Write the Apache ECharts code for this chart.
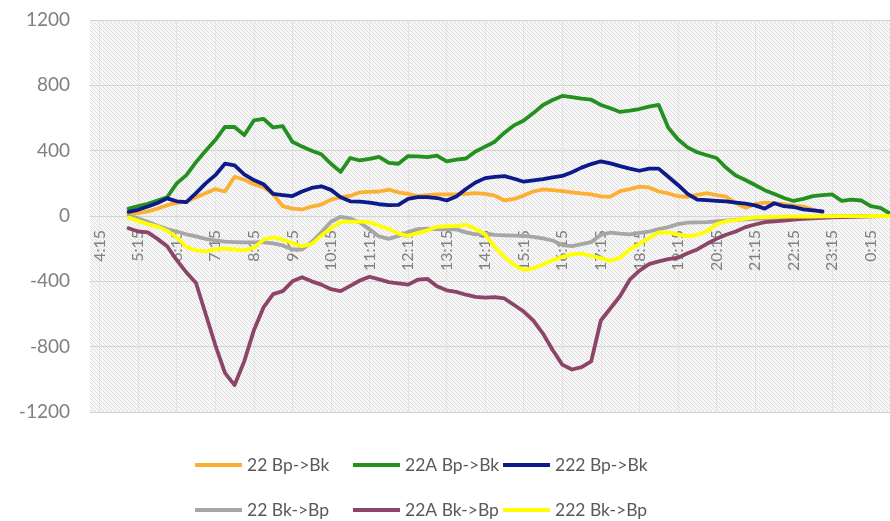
<!DOCTYPE html>
<html>
<head>
<meta charset="utf-8">
<script src="https://cdn.jsdelivr.net/npm/echarts@6/dist/echarts.min.js"></script>
<style>
  html, body { margin: 0; padding: 0; background: #fff; }
  #chart { width: 890px; height: 521px; }
</style>
</head>
<body>
<div id="chart"></div>
<script>
// 15-minute time slots, 4:00 through 0:45
const times = [];
for (let m = 4 * 60; m <= 24 * 60 + 45; m += 15) {
  const h = Math.floor(m / 60) % 24;
  const mm = m % 60;
  times.push(h + ':' + (mm < 10 ? '0' + mm : mm));
}

const seriesNames = ['22 Bp->Bk', '22A Bp->Bk', '222 Bp->Bk', '22 Bk->Bp', '22A Bk->Bp', '222 Bk->Bp'];
const yTicks = { min: -1200, max: 1200, step: 400 };

const bus22Out = [null, null, null, null,
  10, 18, 28, 45, 66, 80, 88, 115, 140, 165,
  150, 240, 222, 195, 176, 133, 60, 45, 40, 58,
  70, 100, 115, 123, 145, 148, 150, 162, 145, 135,
  121, 128, 133, 133, 133, 135, 140, 135, 125, 95,
  105, 125, 150, 163, 158, 152, 145, 138, 133, 120,
  118, 152, 165, 180, 175, 150, 138, 121, 117, 130,
  140, 128, 118, 80, 50, 72, 82, 78, 72, 64,
  57, 40, 22, null, null, null, null, null, null, null];

const bus22AOut = [null, null, null, null,
  45, 60, 75, 95, 115, 200, 250, 330, 400, 465,
  545, 545, 495, 585, 595, 542, 550, 455, 425, 400,
  378, 320, 270, 355, 340, 350, 362, 325, 320, 367,
  365, 360, 370, 335, 345, 352, 395, 425, 455, 510,
  555, 585, 630, 680, 710, 735, 728, 718, 712, 680,
  660, 637, 645, 655, 670, 680, 540, 470, 420, 390,
  372, 355, 295, 248, 220, 190, 158, 135, 110, 92,
  105, 122, 128, 132, 92, 100, 95, 60, 50, 15];

const bus222Out = [null, null, null, null,
  25, 38, 58, 80, 108, 90, 85, 140, 200, 250,
  320, 310, 255, 220, 195, 135, 128, 122, 150, 172,
  182, 160, 115, 90, 88, 82, 72, 66, 68, 105,
  115, 115, 110, 95, 120, 165, 205, 232, 240, 244,
  228, 210, 218, 226, 236, 245, 268, 296, 318, 335,
  322, 305, 290, 277, 290, 290, 240, 190, 135, 100,
  97, 93, 89, 82, 76, 65, 45, 78, 60, 55,
  41, 34, 28, null, null, null, null, null, null, null];

const bus22In = [null, null, null, null,
  0, -15, -35, -60, -80, -95, -112, -125, -140, -150,
  -157, -160, -162, -162, -162, -168, -180, -205, -205, -160,
  -100, -35, -5, -15, -40, -82, -125, -140, -122, -98,
  -80, -78, -80, -82, -82, -100, -112, -108, -115, -118,
  -120, -122, -128, -137, -150, -178, -184, -172, -160, -115,
  -102, -108, -112, -103, -95, -80, -68, -50, -40, -39,
  -37, -33, -28, -24, -20, -17, -15, -12, -10, -8,
  -6, -5, -4, -3, -2, -2, -1, -1, 0, 0];

const bus22AIn = [null, null, null, null,
  -75, -95, -100, -140, -185, -270, -345, -410, -600, -790,
  -960, -1035, -890, -700, -560, -478, -460, -400, -375, -400,
  -420, -448, -460, -428, -395, -372, -388, -405, -412, -420,
  -390, -385, -430, -455, -465, -482, -495, -500, -497, -505,
  -545, -585, -640, -720, -820, -910, -940, -925, -890, -640,
  -565, -490, -390, -335, -295, -278, -264, -255, -228, -205,
  -170, -140, -115, -95, -68, -52, -38, -33, -28, -22,
  -18, -14, -11, -8, -6, -5, -3, -2, -1, 0];

const bus222In = [null, null, null, null,
  -10, -30, -50, -65, -90, -130, -190, -210, -216, -205,
  -200, -205, -210, -195, -145, -130, -145, -165, -185, -172,
  -120, -75, -38, -35, -34, -39, -58, -80, -108, -122,
  -105, -88, -66, -63, -60, -53, -80, -112, -190, -250,
  -300, -330, -320, -297, -270, -250, -235, -230, -245, -258,
  -275, -255, -205, -170, -135, -100, -102, -112, -125, -115,
  -94, -50, -32, -25, -16, -9, -6, -5, -4, -4,
  -3, -3, -2, -2, -1, -1, -1, 0, 0, 0];

const seriesData = [bus22Out, bus22AOut, bus222Out, bus22In, bus22AIn, bus222In];
const colors = ['#FBB033', '#249020', '#0D1A8A', '#A6A6A6', '#8C4468', '#FFFF00'];

// fine crosshatch texture for the plot area
function hatchPattern() {
  const c = document.createElement('canvas');
  c.width = 4; c.height = 4;
  const ctx = c.getContext('2d');
  ctx.fillStyle = '#f9f9f9';
  ctx.fillRect(0, 0, 4, 4);
  ctx.fillStyle = '#dedede';
  ctx.fillRect(0, 0, 1, 1);
  ctx.fillRect(1, 1, 1, 1);
  ctx.fillRect(2, 2, 1, 1);
  ctx.fillRect(3, 3, 1, 1);
  ctx.fillStyle = '#ececec';
  ctx.fillRect(3, 1, 1, 1);
  ctx.fillRect(1, 3, 1, 1);
  return { image: c, repeat: 'repeat' };
}

const gridTop = 20;
const gridHeight = 392;
// distance from the bottom of the plot up to the zero line
const zeroOffset = gridHeight * (0 - yTicks.min) / (yTicks.max - yTicks.min);

const fontFamily = 'Lato, "Open Sans", sans-serif';
const legendLefts = [195, 353, 503];
const legendTops = [456, 501];
const legends = seriesNames.map((name, k) => ({
  data: [name],
  left: legendLefts[k % 3],
  top: legendTops[Math.floor(k / 3)],
  icon: 'rect',
  itemWidth: 47,
  itemHeight: 4,
  itemGap: 5,
  padding: 0,
  selectedMode: false,
  textStyle: { color: '#595959', fontSize: 17.5, fontFamily: fontFamily }
}));

const chart = echarts.init(document.getElementById('chart'), null, { renderer: 'canvas' });
chart.setOption({
  animation: false,
  backgroundColor: '#ffffff',
  color: colors,
  grid: {
    left: 90, right: 0, top: gridTop, height: gridHeight,
    show: true,
    borderWidth: 0,
    backgroundColor: hatchPattern()
  },
  legend: legends,
  xAxis: {
    type: 'category',
    data: times,
    boundaryGap: false,
    offset: -zeroOffset,
    axisLine: { onZero: false, lineStyle: { color: '#d4d4d4', width: 1 } },
    axisTick: { show: false },
    axisLabel: {
      interval: (idx) => idx % 4 === 1,
      rotate: 90,
      margin: 14,
      color: '#808080',
      fontSize: 16,
      fontFamily: fontFamily
    },
    splitLine: {
      show: true,
      interval: (idx) => idx % 4 === 1,
      lineStyle: { color: '#e4e4e4', width: 1 }
    }
  },
  yAxis: {
    type: 'value',
    min: yTicks.min,
    max: yTicks.max,
    interval: yTicks.step,
    axisLine: { show: false },
    axisTick: { show: false },
    axisLabel: {
      color: '#808080', fontSize: 19, margin: 20, fontFamily: fontFamily,
      formatter: (v) => String(v)
    },
    splitLine: { lineStyle: { color: '#d4d4d4', width: 1 } }
  },
  series: seriesNames.map((name, k) => ({
    name: name,
    type: 'line',
    data: seriesData[k],
    showSymbol: false,
    symbol: 'none',
    connectNulls: false,
    lineStyle: { width: 3.8, color: colors[k], join: 'round', cap: 'round' },
    itemStyle: { color: colors[k] },
    z: 2 + k
  }))
});
</script>
</body>
</html>
